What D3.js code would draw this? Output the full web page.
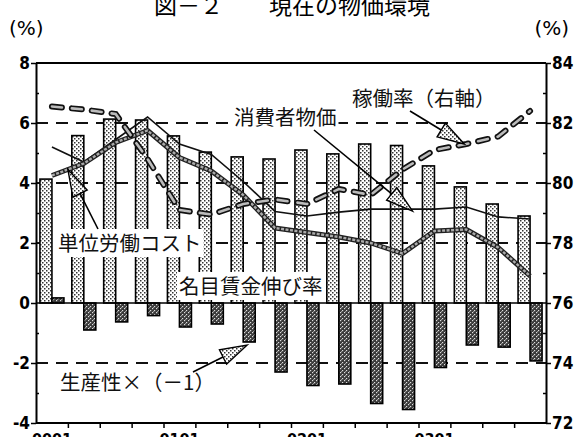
<!DOCTYPE html>
<html>
<head>
<meta charset="utf-8">
<script src="https://cdnjs.cloudflare.com/ajax/libs/d3/7.8.5/d3.min.js"></script>
<style>
  body { margin: 0; background: #fff; }
  svg { display: block; }
</style>
</head>
<body>
<script>
// quarters 2000Q1 .. 2003Q4
var quarters = ["0001","0002","0003","0004","0101","0102","0103","0104",
                "0201","0202","0203","0204","0301","0302","0303","0304"];
var yearLabels = ["0001","0101","0201","0301"];

// 名目賃金伸び率 (light bars)
var wageGrowth = [4.13, 5.58, 6.13, 6.1, 5.57, 5.03, 4.87, 4.8, 5.1, 4.97, 5.3, 5.25, 4.57, 3.87, 3.3, 2.9];
// 生産性×(-1) (dark bars)
var productivity = [0.17, -0.9, -0.63, -0.42, -0.8, -0.7, -1.3, -2.3, -2.75, -2.7, -3.35, -3.55, -2.15, -1.4, -1.47, -1.93];
// 単位労働コスト (thick grey line)
var unitLaborCost = [4.25, 4.65, 5.35, 5.75, 4.85, 4.4, 3.6, 2.5, 2.35, 2.2, 2.0, 1.65, 2.4, 2.45, 1.85, 0.9];
// 消費者物価 (thin line)
var cpi = [5.2, 4.7, 5.45, 6.2, 5.3, 4.95, 4.05, 3.05, 2.9, 3.03, 3.13, 3.13, 3.13, 3.2, 2.87, 2.8];
// 稼働率 right axis (dashed line)
var utilization = [82.55, 82.45, 82.3, 80.8, 79.1, 78.95, 79.3, 79.45, 79.3, 79.8, 79.6, 80.45, 81.1, 81.3, 81.55, 82.4];

var leftTicks = [-4, -2, 0, 2, 4, 6, 8];
var leftMinor = [-3, -1, 1, 3, 5, 7];
var rightTicks = [72, 74, 76, 78, 80, 82, 84];
var rightMinor = [73, 75, 77, 79, 81, 83];
var gridValues = [-2, 2, 4, 6];

var W = 576, H = 437;
var mL = 36, mR = 546, mT = 63, mB = 423;
var numFont = "'Liberation Sans Narrow','DejaVu Sans Condensed',sans-serif";
var jpFont = "'Noto Sans CJK JP',sans-serif";

var svg = d3.select("body").append("svg")
    .attr("width", W).attr("height", H);

var defs = svg.append("defs");
var pl = defs.append("pattern").attr("id", "lightDots")
    .attr("width", 4).attr("height", 4).attr("patternUnits", "userSpaceOnUse");
pl.append("rect").attr("width", 4).attr("height", 4).attr("fill", "#fff");
pl.append("rect").attr("x", 0).attr("y", 0).attr("width", 1.5).attr("height", 1.5).attr("fill", "#333");
pl.append("rect").attr("x", 2).attr("y", 2).attr("width", 1.5).attr("height", 1.5).attr("fill", "#333");

var pd = defs.append("pattern").attr("id", "darkDots")
    .attr("width", 4).attr("height", 4).attr("patternUnits", "userSpaceOnUse");
pd.append("rect").attr("width", 4).attr("height", 4).attr("fill", "#3a3a3a");
pd.append("rect").attr("x", 0).attr("y", 0).attr("width", 1.2).attr("height", 1.2).attr("fill", "#ddd");
pd.append("rect").attr("x", 2).attr("y", 2).attr("width", 1.2).attr("height", 1.2).attr("fill", "#ddd");
pd.append("rect").attr("x", 1).attr("y", 3).attr("width", 1).attr("height", 1).attr("fill", "#999");

var x = d3.scaleBand().domain(quarters).range([mL, mR]).paddingInner(0).paddingOuter(0);
var bw = x.bandwidth();
function xc(i) { return x(quarters[i]) + bw / 2; }
var xb = d3.scaleLinear().domain([0, quarters.length]).range([mL, mR]);
var y = d3.scaleLinear().domain([-4, 8]).range([mB, mT]);
var yR = d3.scaleLinear().domain([72, 84]).range([mB, mT]);

// title and units
svg.append("text").attr("x", 292).attr("y", 14).attr("text-anchor", "middle")
    .attr("font-family", jpFont).attr("font-size", 23).text("図－２　　現在の物価環境");
svg.append("text").attr("x", 9).attr("y", 35).attr("font-family", "'DejaVu Sans',sans-serif")
    .attr("font-size", 20).text("(%)");
svg.append("text").attr("x", 569).attr("y", 35).attr("text-anchor", "end").attr("font-family", "'DejaVu Sans',sans-serif")
    .attr("font-size", 20).text("(%)");

// dashed grid
svg.append("g").selectAll("line").data(gridValues).enter().append("line")
    .attr("x1", mL).attr("x2", mR)
    .attr("y1", function(d) { return y(d); }).attr("y2", function(d) { return y(d); })
    .attr("stroke", "#111").attr("stroke-width", 1.8).attr("stroke-dasharray", "12,8");

// bars
var barW = 12;
svg.append("g").selectAll("rect").data(wageGrowth).enter().append("rect")
    .attr("x", function(d, i) { return xc(i) - barW; })
    .attr("y", function(d) { return y(Math.max(0, d)); })
    .attr("width", barW)
    .attr("height", function(d) { return Math.abs(y(d) - y(0)); })
    .attr("fill", "url(#lightDots)").attr("stroke", "#000").attr("stroke-width", 1.6);

svg.append("g").selectAll("rect").data(productivity).enter().append("rect")
    .attr("x", function(d, i) { return xc(i); })
    .attr("y", function(d) { return y(Math.max(0, d)); })
    .attr("width", barW)
    .attr("height", function(d) { return Math.abs(y(d) - y(0)); })
    .attr("fill", "url(#darkDots)").attr("stroke", "#000").attr("stroke-width", 1.6);

// zero line
svg.append("line").attr("x1", mL).attr("x2", mR).attr("y1", y(0)).attr("y2", y(0))
    .attr("stroke", "#000").attr("stroke-width", 1.6);

// label boxes that mask bars
function label(tx, ty, str, box) {
  var t = svg.append("text").attr("x", tx).attr("y", ty)
      .attr("font-family", jpFont).attr("font-size", 20.5).attr("fill", "#111").text(str);
  if (box) {
    var b = t.node().getBBox();
    svg.insert("rect", function() { return t.node(); })
        .attr("x", b.x - 2).attr("y", b.y + 2).attr("width", b.width + 4).attr("height", b.height - 2)
        .attr("fill", "#fff");
  }
  return t;
}

// lines
var lineGen = d3.line().x(function(d, i) { return xc(i); });

svg.append("path").datum(cpi)
    .attr("d", lineGen.y(function(d) { return y(d); }))
    .attr("fill", "none").attr("stroke", "#111").attr("stroke-width", 1.6);

svg.append("path").datum(unitLaborCost)
    .attr("d", lineGen.y(function(d) { return y(d); }))
    .attr("fill", "none").attr("stroke", "#222").attr("stroke-width", 5).attr("stroke-linejoin", "round");
svg.append("path").datum(unitLaborCost)
    .attr("d", lineGen.y(function(d) { return y(d); }))
    .attr("fill", "none").attr("stroke", "#aaa").attr("stroke-width", 2.4)
    .attr("stroke-dasharray", "3,1.5").attr("stroke-linejoin", "round");

svg.append("path").datum(utilization)
    .attr("d", lineGen.y(function(d) { return yR(d); }))
    .attr("fill", "none").attr("stroke", "#111").attr("stroke-width", 6)
    .attr("stroke-dasharray", "10,10").attr("stroke-linecap", "round");
svg.append("path").datum(utilization)
    .attr("d", lineGen.y(function(d) { return yR(d); }))
    .attr("fill", "none").attr("stroke", "#bbb").attr("stroke-width", 2.6)
    .attr("stroke-dasharray", "10,10").attr("stroke-linecap", "round");

// frame: top and bottom
svg.append("line").attr("x1", mL).attr("x2", mR).attr("y1", mT).attr("y2", mT)
    .attr("stroke", "#000").attr("stroke-width", 2);
svg.append("line").attr("x1", mL).attr("x2", mR).attr("y1", mB).attr("y2", mB)
    .attr("stroke", "#000").attr("stroke-width", 2);

// left axis
svg.append("g").attr("transform", "translate(" + mL + ",0)")
    .call(d3.axisLeft(y).tickValues(leftTicks).tickSize(5).tickSizeOuter(0).tickPadding(1)
      .tickFormat(function(d) { return d < 0 ? "-" + Math.abs(d) : d; }));
svg.append("g").attr("transform", "translate(" + mL + ",0)")
    .call(d3.axisRight(y).tickValues(leftMinor).tickSize(3).tickSizeOuter(0).tickFormat(""))
    .select(".domain").remove();

// right axis
svg.append("g").attr("transform", "translate(" + mR + ",0)")
    .call(d3.axisRight(yR).tickValues(rightTicks).tickSize(5).tickSizeOuter(0).tickPadding(1));
svg.append("g").attr("transform", "translate(" + mR + ",0)")
    .call(d3.axisLeft(yR).tickValues(rightMinor).tickSize(3).tickSizeOuter(0).tickFormat(""))
    .select(".domain").remove();

// bottom axis ticks at quarter boundaries
svg.append("g").attr("transform", "translate(0," + mB + ")")
    .call(d3.axisBottom(xb).tickValues(d3.range(1, quarters.length)).tickSize(5).tickSizeOuter(0).tickFormat(""))
    .select(".domain").remove();

svg.selectAll(".domain").attr("stroke", "#000").attr("stroke-width", 2);
svg.selectAll(".tick line").attr("stroke", "#000").attr("stroke-width", 1.5);
svg.selectAll(".tick text").attr("font-family", numFont).attr("font-size", 17)
    .attr("font-weight", "bold").attr("fill", "#000");

// year labels (cut by bottom edge)
svg.append("g").selectAll("text").data(yearLabels).enter().append("text")
    .attr("x", function(d) { return xc(quarters.indexOf(d)); })
    .attr("y", 445).attr("text-anchor", "middle")
    .attr("font-family", numFont).attr("font-size", 16).attr("font-weight", "bold")
    .text(function(d) { return d; });

// annotations
function arrow(from, tip) {
  var dx = tip[0] - from[0], dy = tip[1] - from[1];
  var len = Math.sqrt(dx * dx + dy * dy);
  var ux = dx / len, uy = dy / len;
  var hl = 27, hw = 8;
  var bx = tip[0] - ux * hl, by = tip[1] - uy * hl;
  svg.append("line").attr("x1", from[0]).attr("y1", from[1]).attr("x2", bx).attr("y2", by)
      .attr("stroke", "#000").attr("stroke-width", 1.6);
  svg.append("polygon")
      .attr("points", [[tip[0], tip[1]], [bx - uy * hw, by + ux * hw], [bx + uy * hw, by - ux * hw]].join(" "))
      .attr("fill", "url(#lightDots)").attr("stroke", "#000").attr("stroke-width", 1.4);
}

label(352, 106, "稼働率（右軸）", true);
arrow([410, 111], [xc(13) - 2, yR(utilization[13])]);

label(234, 125, "消費者物価", true);
arrow([314, 130], [xc(11) + 10, y(cpi[11]) + 2]);

label(58, 251, "単位労働コスト", true);
arrow([98, 229], [(xc(0) + xc(1)) / 2, y((unitLaborCost[0] + unitLaborCost[1]) / 2)]);

label(179, 294, "名目賃金伸び率", true);

label(60, 390, "生産性×（－1）", false);
arrow([193, 372], [xc(6) + 4, y(productivity[6]) + 3]);
</script>
</body>
</html>
